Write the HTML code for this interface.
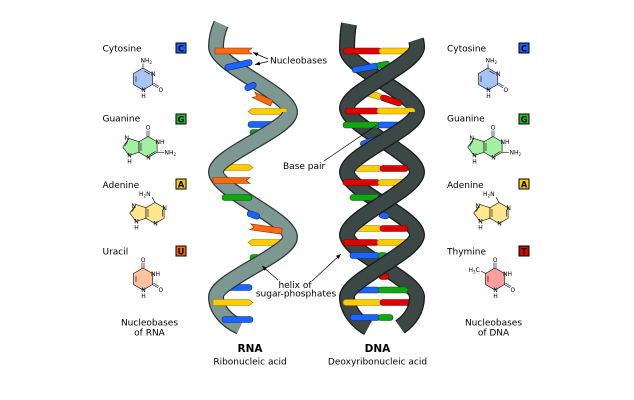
<!DOCTYPE html>
<html><head><meta charset="utf-8"><style>
html,body{margin:0;padding:0;background:#fff;}
svg{display:block;}
text{font-family:"DejaVu Sans","Liberation Sans",sans-serif;fill:#000;}
.r{fill:#e00000;stroke:#7a0000;stroke-width:.6}
.y{fill:#ffcc00;stroke:#9a7a00;stroke-width:.6}
.b{fill:#1c64ff;stroke:#0a2d80;stroke-width:.6}
.g{fill:#10a810;stroke:#055a05;stroke-width:.6}
.o{fill:#ff6a10;stroke:#8a3300;stroke-width:.6}
.m{stroke:#000;stroke-width:.6}
.ml{stroke:#000;stroke-width:.6;fill:none}
.at{font-size:6px}
.lb{font-size:9px}
.bx{stroke:#000;stroke-width:1}
.bl{font-size:8.5px;font-weight:bold;text-anchor:middle}
</style></head><body>
<svg width="634" height="400" viewBox="0 0 634 400" xmlns="http://www.w3.org/2000/svg">
<defs>
<marker id="ah" viewBox="0 0 10 10" refX="10" refY="5" markerWidth="5" markerHeight="5" markerUnits="userSpaceOnUse" orient="auto"><path d="M0,1 L10,5 L0,9 z" fill="#000"/></marker>
</defs>
<rect width="634" height="400" fill="#fff"/>

<!-- ===== RNA back segments ===== -->
<g fill="none" stroke-linecap="butt">
<path d="M221,24 C217,33 216,40 216,47 C216,65 290,94 290,112" stroke="#2d3735" stroke-width="16"/>
<path d="M216,172 C216,190 290,219 290,237" stroke="#2d3735" stroke-width="16"/>
<path d="M216,297 C216,310 227,321 240,327" stroke="#2d3735" stroke-width="16"/>
<path d="M221,24 C217,33 216,40 216,47 C216,65 290,94 290,112" stroke="#7d9892" stroke-width="13.5"/>
<path d="M216,172 C216,190 290,219 290,237" stroke="#7d9892" stroke-width="13.5"/>
<path d="M216,297 C216,310 227,321 240,327" stroke="#7d9892" stroke-width="13.5"/>
</g>

<!-- ===== DNA back segments ===== -->
<g fill="none" stroke-linecap="butt">
<path d="M349,24 C347.5,32 347,40 347,50 C347,67 417,95 417,112" stroke="#161b1a" stroke-width="16"/>
<path d="M347,172 C347,190 417,217 417,235" stroke="#161b1a" stroke-width="16"/>
<path d="M347,297 C347,310 357,322 368,328" stroke="#161b1a" stroke-width="16"/>
<path d="M347,108 C347,126 417,154 417,172" stroke="#161b1a" stroke-width="16"/>
<path d="M347,235 C347,252 417,280 417,297" stroke="#161b1a" stroke-width="16"/>
<path d="M349,24 C347.5,32 347,40 347,50 C347,67 417,95 417,112" stroke="#3c4846" stroke-width="13.5"/>
<path d="M347,172 C347,190 417,217 417,235" stroke="#3c4846" stroke-width="13.5"/>
<path d="M347,297 C347,310 357,322 368,328" stroke="#3c4846" stroke-width="13.5"/>
<path d="M347,108 C347,126 417,154 417,172" stroke="#3c4846" stroke-width="13.5"/>
<path d="M347,235 C347,252 417,280 417,297" stroke="#3c4846" stroke-width="13.5"/>
</g>

<!-- ===== RNA bases ===== -->
<polygon class="o" points="215,48 252,48 248,51 252,54 215,54"/>
<g transform="translate(238.5,65) rotate(-12.5)"><rect class="b" x="-14" y="-3" width="28" height="6" rx="3"/></g>
<g transform="translate(250.5,86.5) rotate(-25)"><rect class="b" x="-6" y="-3" width="12" height="6" rx="3"/></g>
<g transform="translate(262.5,99) rotate(25)"><polygon class="o" points="-10,-3 10,-3 10,3 -10,3 -6,0"/></g>
<polygon class="y" points="287,108.5 252,108.5 248,111.5 252,114.5 287,114.5"/>
<rect class="b" x="248" y="121.5" width="34" height="6" rx="3"/>
<rect class="g" x="250" y="129.5" width="10" height="6" rx="3"/>
<polygon class="y" points="223,164.5 249,164.5 253,167.5 249,170.5 223,170.5"/>
<polygon class="o" points="213,177.5 250,177.5 246,180.5 250,183.5 213,183.5"/>
<rect class="g" x="222" y="194.5" width="30" height="6" rx="3"/>
<g transform="translate(253.5,215) rotate(20)"><rect class="b" x="-6.5" y="-3" width="13" height="6" rx="3"/></g>
<g transform="translate(266,229) rotate(8)"><polygon class="o" points="-16,-3 16,-3 16,3 -16,3 -12,0"/></g>
<polygon class="y" points="285,239.5 252,239.5 248,242.5 252,245.5 285,245.5"/>
<rect class="g" x="250" y="254.5" width="10" height="6" rx="3"/>
<rect class="b" x="225" y="284.5" width="27" height="6" rx="3"/>
<polygon class="y" points="213,299.5 249,299.5 253,302.5 249,305.5 213,305.5"/>
<rect class="b" x="222" y="316.5" width="31" height="6" rx="3"/>

<!-- ===== DNA bases ===== -->
<rect class="r" x="343" y="48" width="39" height="6" rx="3"/><rect class="y" x="379" y="48" width="38" height="6" rx="3"/>
<g transform="translate(371,67) rotate(-10)"><rect class="b" x="-19" y="-3" width="27" height="6" rx="3"/><rect class="g" x="6" y="-3" width="13" height="6" rx="3"/></g>
<g transform="translate(375,87.5) rotate(-15)"><rect class="b" x="-4" y="-3" width="8" height="6" rx="3"/></g>
<g transform="translate(383.5,98) rotate(18)"><rect class="y" x="-19" y="-3" width="17" height="6" rx="3"/><rect class="r" x="-3" y="-3" width="22" height="6" rx="3"/></g>
<rect class="r" x="345" y="108" width="34" height="6" rx="3"/><rect class="y" x="377" y="108" width="38" height="6" rx="3"/>
<rect class="g" x="343" y="122" width="37" height="6" rx="3"/><rect class="b" x="378" y="122" width="34" height="6" rx="3"/>
<g transform="translate(370,141.5) rotate(-20)"><rect class="b" x="-10" y="-3" width="18" height="6" rx="3"/><rect class="g" x="7" y="-3" width="6" height="6" rx="3"/></g>
<rect class="y" x="355" y="165.5" width="27" height="6" rx="3"/><rect class="r" x="380" y="165.5" width="28" height="6" rx="3"/>
<rect class="r" x="343" y="179.5" width="37" height="6" rx="3"/><rect class="y" x="378" y="179.5" width="35" height="6" rx="3"/>
<rect class="g" x="350" y="194.5" width="30" height="6" rx="3"/><rect class="b" x="378" y="194.5" width="8" height="6" rx="3"/>
<g transform="translate(384,215.5) rotate(10)"><rect class="b" x="-5" y="-3" width="10" height="6" rx="3"/></g>
<rect class="y" x="355" y="225.5" width="27" height="6" rx="3"/><rect class="r" x="380" y="225.5" width="28" height="6" rx="3"/>
<rect class="r" x="343" y="239.5" width="36" height="6" rx="3"/><rect class="y" x="377" y="239.5" width="38" height="6" rx="3"/>
<rect class="b" x="350" y="252.5" width="30" height="6" rx="3"/><rect class="g" x="378" y="252.5" width="9" height="6" rx="3"/>
<rect class="r" x="379" y="273.5" width="10" height="6" rx="3"/>
<rect class="b" x="355" y="287" width="25" height="6" rx="3"/><rect class="g" x="378" y="287" width="30" height="6" rx="3"/>
<rect class="y" x="343" y="299.5" width="39" height="6" rx="3"/><rect class="r" x="380" y="299.5" width="33" height="6" rx="3"/>
<rect class="b" x="350" y="314.5" width="30" height="6" rx="3"/><rect class="g" x="378" y="314.5" width="15" height="6" rx="3"/>

<!-- ===== RNA front segments ===== -->
<g fill="none" stroke-linecap="butt">
<path d="M290,112 C290,129 216,155 216,172" stroke="#2d3735" stroke-width="16"/>
<path d="M290,237 C290,254 216,280 216,297" stroke="#2d3735" stroke-width="16"/>
<path d="M290,112 C290,129 216,155 216,172" stroke="#7d9892" stroke-width="13.5"/>
<path d="M290,237 C290,254 216,280 216,297" stroke="#7d9892" stroke-width="13.5"/>
</g>

<!-- ===== DNA front segments ===== -->
<g fill="none" stroke-linecap="butt">
<path d="M416,40 C417,43 417,45 417,47 C417,64 347,91 347,108" stroke="#161b1a" stroke-width="16"/>
<path d="M417,112 C417,129 347,155 347,172" stroke="#161b1a" stroke-width="16"/>
<path d="M417,172 C417,190 347,217 347,235" stroke="#161b1a" stroke-width="16"/>
<path d="M417,235 C417,252 347,280 347,297" stroke="#161b1a" stroke-width="16"/>
<path d="M417,297 C417,310 410,320 400,327" stroke="#161b1a" stroke-width="16"/>
<path d="M416,40 C417,43 417,45 417,47 C417,64 347,91 347,108" stroke="#3c4846" stroke-width="13.5"/>
<path d="M417,112 C417,129 347,155 347,172" stroke="#3c4846" stroke-width="13.5"/>
<path d="M417,172 C417,190 347,217 347,235" stroke="#3c4846" stroke-width="13.5"/>
<path d="M417,235 C417,252 347,280 347,297" stroke="#3c4846" stroke-width="13.5"/>
<path d="M417,297 C417,310 410,320 400,327" stroke="#3c4846" stroke-width="13.5"/>
</g>

<!-- ===== Annotations ===== -->
<text class="lb" x="270" y="63.5">Nucleobases</text>
<line x1="268" y1="59" x2="253" y2="52.5" stroke="#000" stroke-width=".7" marker-end="url(#ah)"/>
<line x1="268" y1="61.5" x2="255" y2="64.5" stroke="#000" stroke-width=".7" marker-end="url(#ah)"/>
<text class="lb" x="283" y="169">Base pair</text>
<line x1="324" y1="161" x2="377" y2="125" stroke="#000" stroke-width=".7"/>
<text class="lb" x="295" y="288" text-anchor="middle">helix of</text>
<text class="lb" x="296" y="296.5" text-anchor="middle">sugar-phosphates</text>
<line x1="278" y1="280" x2="262" y2="266" stroke="#000" stroke-width=".7" marker-end="url(#ah)"/>
<line x1="312" y1="281" x2="341" y2="254" stroke="#000" stroke-width=".7" marker-end="url(#ah)"/>

<text x="250" y="352" text-anchor="middle" style="font-size:10.5px;font-weight:bold">RNA</text>
<text class="lb" x="250" y="364.5" text-anchor="middle">Ribonucleic acid</text>
<text x="377.5" y="352" text-anchor="middle" style="font-size:10.5px;font-weight:bold">DNA</text>
<text class="lb" x="377.5" y="364.5" text-anchor="middle">Deoxyribonucleic acid</text>

<!-- ===== Left column labels ===== -->
<text class="lb" x="102.5" y="51.5">Cytosine</text>
<text class="lb" x="102.5" y="121.5">Guanine</text>
<text class="lb" x="102.5" y="188">Adenine</text>
<text class="lb" x="102.5" y="254.5">Uracil</text>
<rect class="bx" x="176" y="43" width="10" height="10" fill="#1c5fff"/><text class="bl" x="181" y="51.3">C</text>
<rect class="bx" x="176" y="114" width="10" height="10" fill="#22c022"/><text class="bl" x="181" y="122.3">G</text>
<rect class="bx" x="176" y="179" width="10" height="10" fill="#ffcc00"/><text class="bl" x="181" y="187.3">A</text>
<rect class="bx" x="176" y="246" width="10" height="10" fill="#ff6600"/><text class="bl" x="181" y="254.3">U</text>
<text class="lb" x="149.5" y="325.5" text-anchor="middle">Nucleobases</text>
<text class="lb" x="149.5" y="335.5" text-anchor="middle">of RNA</text>

<!-- ===== Right column labels ===== -->
<text class="lb" x="447" y="51.5">Cytosine</text>
<text class="lb" x="447" y="121.5">Guanine</text>
<text class="lb" x="447" y="188">Adenine</text>
<text class="lb" x="447" y="254.5">Thymine</text>
<rect class="bx" x="519" y="43" width="10" height="10" fill="#1c5fff"/><text class="bl" x="524" y="51.3">C</text>
<rect class="bx" x="519" y="114" width="10" height="10" fill="#22c022"/><text class="bl" x="524" y="122.3">G</text>
<rect class="bx" x="519" y="179" width="10" height="10" fill="#ffcc00"/><text class="bl" x="524" y="187.3">A</text>
<rect class="bx" x="519" y="246" width="10" height="10" fill="#e00000"/><text class="bl" x="524" y="254.3">T</text>
<text class="lb" x="493.5" y="325.5" text-anchor="middle">Nucleobases</text>
<text class="lb" x="493.5" y="335.5" text-anchor="middle">of DNA</text>

<!-- ===== Molecules ===== -->
<g id="cyt">
<polygon class="m" fill="#a7c4f7" points="143,68 152.5,73.5 152.5,84.5 143,90 133.5,84.5 133.5,73.5"/>
<line class="ml" x1="144.5" y1="71" x2="149.8" y2="74.1"/>
<line class="ml" x1="136" y1="76" x2="136" y2="82"/>
<line class="ml" x1="143" y1="68" x2="143" y2="63.5"/>
<line class="ml" x1="152.5" y1="84.5" x2="158" y2="87.7"/>
<line class="ml" x1="153.3" y1="83" x2="158.8" y2="86.2"/>
<text class="at" x="140.5" y="62.5">NH<tspan font-size="4" dy="1.5">2</tspan></text>
<text class="at" x="151" y="75.8">N</text>
<text class="at" x="158.5" y="92">O</text>
<text class="at" x="141.3" y="92.2">N</text>
<text class="at" x="141.3" y="98">H</text>
</g>
<g id="gua">
<polygon class="m" fill="#a2f0a2" points="148,136.5 157.1,141.75 157.1,152.25 148,157.5 138.9,152.25 138.9,141.75"/>
<polygon class="m" fill="#a2f0a2" points="138.9,141.75 138.9,152.25 129,155.5 122.8,147 129,138.5"/>
<line class="ml" x1="147" y1="136.5" x2="147" y2="130.5"/>
<line class="ml" x1="149" y1="136.5" x2="149" y2="130.5"/>
<line class="ml" x1="141" y1="143" x2="141" y2="151"/>
<line class="ml" x1="127.8" y1="141" x2="124.8" y2="146"/>
<line class="ml" x1="155.3" y1="151.5" x2="149.5" y2="155"/>
<line class="ml" x1="157.1" y1="152.25" x2="164" y2="152.25"/>
<text class="at" x="145.8" y="129.5">O</text>
<text class="at" x="155.5" y="143.8">NH</text>
<text class="at" x="164.5" y="154.5">NH<tspan font-size="4" dy="1.5">2</tspan></text>
<text class="at" x="146.3" y="159.7">N</text>
<text class="at" x="124.5" y="140">N</text>
<text class="at" x="127.3" y="157.7">N</text>
<text class="at" x="127.3" y="163.5">H</text>
</g>
<g id="ade">
<polygon class="m" fill="#ffe68f" points="155,202.5 164.1,207.75 164.1,218.25 155,223.5 145.9,218.25 145.9,207.75"/>
<polygon class="m" fill="#ffe68f" points="145.9,207.75 145.9,218.25 136,221.5 129.8,213 136,204.5"/>
<line class="ml" x1="148" y1="209" x2="148" y2="217"/>
<line class="ml" x1="134.8" y1="207" x2="131.8" y2="212"/>
<line class="ml" x1="162.3" y1="209.5" x2="162.3" y2="216.5"/>
<line class="ml" x1="155" y1="202.5" x2="152" y2="197"/>
<text class="at" x="139" y="196">H<tspan font-size="4" dy="1.5">2</tspan><tspan dy="-1.5">N</tspan></text>
<text class="at" x="162.4" y="210">N</text>
<text class="at" x="153.3" y="225.7">N</text>
<text class="at" x="131.5" y="208">N</text>
<text class="at" x="134.3" y="223.7">N</text>
<text class="at" x="134.3" y="229.5">H</text>
</g>
<g id="ura">
<polygon class="m" fill="#ffc2a0" points="143,268 152.5,273.5 152.5,284.5 143,290 133.5,284.5 133.5,273.5"/>
<line class="ml" x1="142" y1="268" x2="142" y2="262.5"/>
<line class="ml" x1="144" y1="268" x2="144" y2="262.5"/>
<line class="ml" x1="152.5" y1="284.5" x2="158" y2="287.7"/>
<line class="ml" x1="153.3" y1="283" x2="158.8" y2="286.2"/>
<line class="ml" x1="136" y1="276" x2="136" y2="282"/>
<text class="at" x="140.8" y="262">O</text>
<text class="at" x="151" y="275.8">NH</text>
<text class="at" x="158.5" y="292">O</text>
<text class="at" x="141.3" y="292.2">N</text>
<text class="at" x="141.3" y="298">H</text>
</g>

<!-- right side molecules -->
<g transform="translate(345,0)">
<polygon class="m" fill="#a7c4f7" points="143,68 152.5,73.5 152.5,84.5 143,90 133.5,84.5 133.5,73.5"/>
<line class="ml" x1="144.5" y1="71" x2="149.8" y2="74.1"/>
<line class="ml" x1="136" y1="76" x2="136" y2="82"/>
<line class="ml" x1="143" y1="68" x2="143" y2="63.5"/>
<line class="ml" x1="152.5" y1="84.5" x2="158" y2="87.7"/>
<line class="ml" x1="153.3" y1="83" x2="158.8" y2="86.2"/>
<text class="at" x="140.5" y="62.5">NH<tspan font-size="4" dy="1.5">2</tspan></text>
<text class="at" x="151" y="75.8">N</text>
<text class="at" x="158.5" y="92">O</text>
<text class="at" x="141.3" y="92.2">N</text>
<text class="at" x="141.3" y="98">H</text>
</g>
<g transform="translate(345,0)">
<polygon class="m" fill="#a2f0a2" points="148,136.5 157.1,141.75 157.1,152.25 148,157.5 138.9,152.25 138.9,141.75"/>
<polygon class="m" fill="#a2f0a2" points="138.9,141.75 138.9,152.25 129,155.5 122.8,147 129,138.5"/>
<line class="ml" x1="147" y1="136.5" x2="147" y2="130.5"/>
<line class="ml" x1="149" y1="136.5" x2="149" y2="130.5"/>
<line class="ml" x1="141" y1="143" x2="141" y2="151"/>
<line class="ml" x1="127.8" y1="141" x2="124.8" y2="146"/>
<line class="ml" x1="155.3" y1="151.5" x2="149.5" y2="155"/>
<line class="ml" x1="157.1" y1="152.25" x2="164" y2="152.25"/>
<text class="at" x="145.8" y="129.5">O</text>
<text class="at" x="155.5" y="143.8">NH</text>
<text class="at" x="164.5" y="154.5">NH<tspan font-size="4" dy="1.5">2</tspan></text>
<text class="at" x="146.3" y="159.7">N</text>
<text class="at" x="124.5" y="140">N</text>
<text class="at" x="127.3" y="157.7">N</text>
<text class="at" x="127.3" y="163.5">H</text>
</g>
<g transform="translate(344,0)">
<polygon class="m" fill="#ffe68f" points="155,202.5 164.1,207.75 164.1,218.25 155,223.5 145.9,218.25 145.9,207.75"/>
<polygon class="m" fill="#ffe68f" points="145.9,207.75 145.9,218.25 136,221.5 129.8,213 136,204.5"/>
<line class="ml" x1="148" y1="209" x2="148" y2="217"/>
<line class="ml" x1="134.8" y1="207" x2="131.8" y2="212"/>
<line class="ml" x1="162.3" y1="209.5" x2="162.3" y2="216.5"/>
<line class="ml" x1="155" y1="202.5" x2="152" y2="197"/>
<text class="at" x="139" y="196">H<tspan font-size="4" dy="1.5">2</tspan><tspan dy="-1.5">N</tspan></text>
<text class="at" x="162.4" y="210">N</text>
<text class="at" x="153.3" y="225.7">N</text>
<text class="at" x="131.5" y="208">N</text>
<text class="at" x="134.3" y="223.7">N</text>
<text class="at" x="134.3" y="229.5">H</text>
</g>
<g transform="translate(352,0)">
<polygon class="m" fill="#ff9e9e" points="143,268 152.5,273.5 152.5,284.5 143,290 133.5,284.5 133.5,273.5"/>
<line class="ml" x1="142" y1="268" x2="142" y2="262.5"/>
<line class="ml" x1="144" y1="268" x2="144" y2="262.5"/>
<line class="ml" x1="152.5" y1="284.5" x2="158" y2="287.7"/>
<line class="ml" x1="153.3" y1="283" x2="158.8" y2="286.2"/>
<line class="ml" x1="136" y1="276" x2="136" y2="282"/>
<line class="ml" x1="133.5" y1="273.5" x2="129" y2="271"/>
<text class="at" x="140.8" y="262">O</text>
<text class="at" x="151" y="275.8">NH</text>
<text class="at" x="158.5" y="292">O</text>
<text class="at" x="141.3" y="292.2">N</text>
<text class="at" x="141.3" y="298">H</text>
<text class="at" x="116.5" y="272">H<tspan font-size="4" dy="1.5">3</tspan><tspan dy="-1.5">C</tspan></text>
</g>
</svg>
</body></html>
